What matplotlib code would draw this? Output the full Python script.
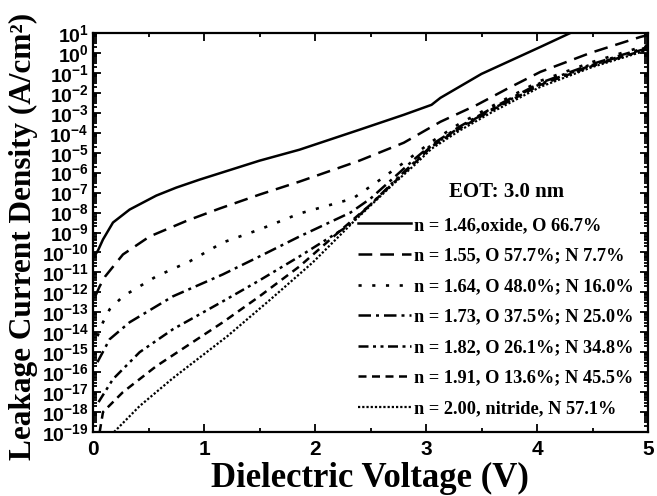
import numpy as np
import matplotlib
matplotlib.use("Agg")
import matplotlib.pyplot as plt
from matplotlib.ticker import LogLocator, FuncFormatter, MultipleLocator, NullFormatter

plt.rcParams['mathtext.fontset'] = 'custom'
plt.rcParams['mathtext.rm'] = 'Liberation Sans:bold'
plt.rcParams['mathtext.bf'] = 'Liberation Sans:bold'
plt.rcParams['mathtext.it'] = 'Liberation Sans:bold'

# ---- data (log10 of leakage current density, A/cm^2) ----
labels = [
    "n = 1.46,oxide, O 66.7%",
    "n = 1.55, O 57.7%; N 7.7%",
    "n = 1.64, O 48.0%; N 16.0%",
    "n = 1.73, O 37.5%; N 25.0%",
    "n = 1.82, O 26.1%; N 34.8%",
    "n = 1.91, O 13.6%; N 45.5%",
    "n = 2.00, nitride, N 57.1%",
]
legend_title = "EOT: 3.0 nm"

v_146 = [0.01, 0.045, 0.09, 0.18, 0.33, 0.57, 0.75, 0.96, 1.5, 1.86, 2.4, 2.8, 3.05, 3.13, 3.5, 4.03, 4.3, 4.5]
j_146 = [-10.2, -9.9, -9.35, -8.5, -7.85, -7.15, -6.75, -6.35, -5.4, -4.85, -3.85, -3.1, -2.6, -2.25, -1.05, 0.3, 1.0, 1.4]

v_155 = [0.02, 0.06, 0.11, 0.27, 0.51, 0.85, 1.14, 1.5, 1.86, 2.4, 2.8, 3.13, 3.46, 3.73, 4.03, 4.48, 4.93, 5.0]
j_155 = [-12.2, -11.7, -11.2, -10.1, -9.2, -8.4, -7.8, -7.1, -6.45, -5.4, -4.5, -3.45, -2.6, -1.8, -0.95, 0.0, 0.8, 0.9]

v_164 = [0.04, 0.09, 0.15, 0.27, 0.57, 0.87, 1.17, 1.5, 1.86, 2.34, 2.55, 2.8, 3.05, 3.3, 3.6, 4.03, 4.5, 5.0]
j_164 = [-14.2, -13.5, -12.85, -12.2, -11.2, -10.45, -9.5, -8.85, -8.05, -7.3, -6.5, -5.5, -4.45, -3.55, -2.65, -1.4, -0.45, 0.4]

v_173 = [0.04, 0.15, 0.33, 0.72, 1.17, 1.5, 1.86, 2.32, 2.5, 2.7, 2.9, 3.05, 3.3, 3.6, 4.03, 4.5, 5.0]
j_173 = [-15.5, -14.35, -13.5, -12.2, -11.1, -10.2, -9.2, -8.0, -7.3, -6.3, -5.3, -4.6, -3.7, -2.75, -1.5, -0.55, 0.3]

v_182 = [0.05, 0.18, 0.42, 0.72, 1.17, 1.5, 1.86, 2.29, 2.5, 2.7, 2.9, 3.05, 3.3, 3.6, 4.03, 4.5, 5.0]
j_182 = [-17.5, -16.35, -15.0, -13.85, -12.45, -11.4, -10.2, -8.7, -7.6, -6.5, -5.45, -4.65, -3.75, -2.8, -1.55, -0.6, 0.25]

v_191 = [0.06, 0.09, 0.27, 0.57, 1.17, 1.5, 1.86, 2.25, 2.5, 2.7, 2.9, 3.05, 3.3, 3.6, 4.03, 4.5, 5.0]
j_191 = [-19.0, -18.0, -17.0, -15.7, -13.5, -12.2, -10.7, -8.8, -7.6, -6.55, -5.5, -4.7, -3.8, -2.85, -1.6, -0.65, 0.2]

v_200 = [0.19, 0.42, 0.72, 1.21, 1.6, 1.98, 2.34, 2.5, 2.7, 2.9, 3.05, 3.3, 3.6, 4.03, 4.5, 5.0]
j_200 = [-19.0, -17.7, -16.3, -14.2, -12.35, -10.5, -8.5, -7.65, -6.6, -5.6, -4.8, -3.9, -2.95, -1.7, -0.7, 0.15]

volts = [v_146, v_155, v_164, v_173, v_182, v_191, v_200]
logj = [j_146, j_155, j_164, j_173, j_182, j_191, j_200]

styles = [
    dict(ls='-', lw=1.8),
    dict(ls=(0, (5.5, 3.2)), lw=1.8),
    dict(ls=(0, (1.2, 4.0)), lw=1.9),
    dict(ls=(0, (5.0, 2.0, 1.2, 2.0)), lw=1.8),
    dict(ls=(0, (4.0, 1.8, 1.2, 1.8, 1.2, 1.8)), lw=1.8),
    dict(ls=(0, (3.2, 2.2)), lw=1.8),
    dict(ls=(0, (1.0, 0.9)), lw=1.6),
]

fig = plt.figure(figsize=(6.57, 4.96), dpi=100)
ax = fig.add_axes([93 / 657, 64 / 496, 555 / 657, 399 / 496])

for v, lj, st, lab in zip(volts, logj, styles, labels):
    ax.plot(v, 10 ** np.array(lj), color='black', label=lab, **st)

ax.set_yscale('log')
ax.set_xlim(0, 5)
ax.set_ylim(1e-19, 1e1)

ax.yaxis.set_major_locator(LogLocator(base=10, numticks=30))
ax.yaxis.set_minor_locator(LogLocator(base=10, subs=np.arange(2, 10), numticks=30))
ax.yaxis.set_major_formatter(FuncFormatter(lambda val, pos: r'$10^{%d}$' % int(round(np.log10(val)))))
ax.yaxis.set_minor_formatter(NullFormatter())
ax.xaxis.set_major_locator(MultipleLocator(1))
ax.xaxis.set_minor_locator(MultipleLocator(0.5))

ax.tick_params(which='both', direction='in', top=True, right=True, width=1.3)
ax.tick_params(which='major', length=6)
ax.tick_params(which='minor', length=3)
ax.tick_params(axis='x', labelsize=15, pad=6)
ax.tick_params(axis='y', labelsize=14, pad=3)
for lab in ax.get_xticklabels() + ax.get_yticklabels():
    lab.set_fontfamily('Liberation Sans')
    lab.set_fontweight('bold')
for s in ax.spines.values():
    s.set_linewidth(1.6)

ax.set_xlabel('Dielectric Voltage (V)', fontsize=25, fontweight='bold', family='Liberation Serif')
ax.set_ylabel('Leakage Current Density (A/cm²)', fontsize=22.5, fontweight='bold', family='Liberation Serif')
ax.xaxis.set_label_coords(0.499, -0.075)
ax.yaxis.set_label_coords(-0.099, 0.49)

leg = ax.legend(loc='upper left', bbox_to_anchor=((345 - 93) / 555, (432 - 204) / 399),
                frameon=False, handlelength=2.9, handletextpad=0.15,
                labelspacing=0.74, borderpad=0.2,
                prop={'family': 'Liberation Serif', 'weight': 'bold', 'size': 13.2})
ax.text((507 - 93) / 555, (432 - 192) / 399, legend_title, transform=ax.transAxes,
        ha='center', va='center', fontsize=15, fontweight='bold', family='Liberation Serif')

fig.savefig('out.png', dpi=100)
